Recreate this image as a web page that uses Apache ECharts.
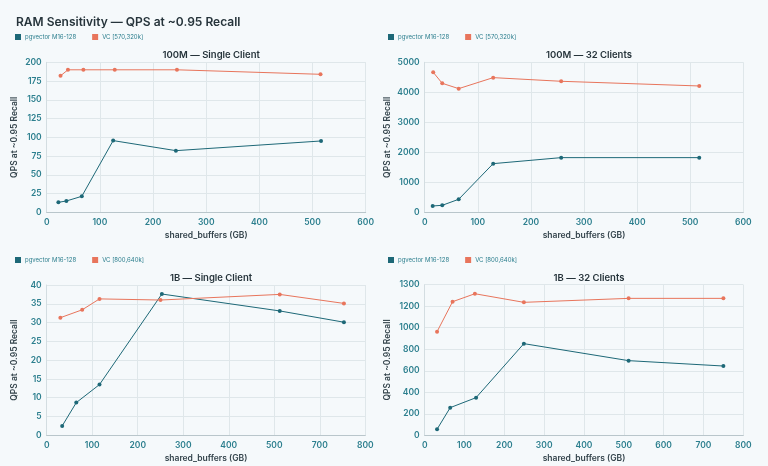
<!DOCTYPE html>
<html><head><meta charset="utf-8">
<script src="https://cdn.jsdelivr.net/npm/echarts@6/dist/echarts.min.js"></script>
<style>html,body{margin:0;padding:0;background:#f5f9fb;}#c{width:768px;height:466px;}</style>
</head><body><div id="c"></div>
<script>
// 100M — Single Client
const tl_pg_x = [22, 37, 66, 125, 243, 516];
const tl_pg_y = [13.3, 15.1, 21.3, 95.6, 82.2, 95.1];
const tl_vc_x = [26, 40, 69, 128, 245, 515];
const tl_vc_y = [182, 190, 190, 190, 190, 184];
// 100M — 32 Clients
const tr_pg_x = [15, 33, 64, 129, 257, 517];
const tr_pg_y = [211, 233, 433, 1622, 1822, 1822];
const tr_vc_x = [16, 33, 64, 129, 257, 517];
const tr_vc_y = [4667, 4300, 4122, 4489, 4367, 4211];
// 1B — Single Client (x axis as drawn: 7 equal steps)
const bl_pg_x = [34, 65, 116, 253, 512, 653];
const bl_pg_y = [2.5, 8.7, 13.5, 37.6, 33.1, 30.1];
const bl_vc_x = [30, 78, 116, 250, 512, 653];
const bl_vc_y = [31.3, 33.4, 36.3, 36.0, 37.5, 35.1];
const bl_x_ticks = ["0","100","200","300","400","500","700","800"];
// 1B — 32 Clients (y axis as drawn: 7 equal steps)
const br_pg_x = [31, 64, 129, 249, 512, 750];
const br_pg_y = [56, 257, 350, 852, 694, 644];
const br_vc_x = [31, 70, 126, 249, 512, 750];
const br_vc_y = [963, 1242, 1316, 1236, 1273, 1273];
const br_y_ticks = ["0","200","400","600","800","1000","1200","1300"];

const titles = ["100M — Single Client","100M — 32 Clients","1B — Single Client","1B — 32 Clients"];
const pgName = "pgvector M16-128";
const vcTop = "VC [570,320k]";
const vcBot = "VC [800,640k]";

const TEAL = "#1d6877", ORANGE = "#e8755c", LBL = "#2c7f8e";
const zip = (a,b)=>a.map((v,i)=>[v,b[i]]);

const grids = [
  {left:46.7, right:402.3, top:62.3, bottom:253.7},
  {left:424.7, right:24.7, top:62.3, bottom:253.7},
  {left:46.7, right:402.7, top:285, bottom:30.7},
  {left:424.7, right:24.7, top:284.7, bottom:30.7}
];
const plain = v=>String(v);
const xCfg = [
  {min:0,max:600,interval:100},
  {min:0,max:600,interval:100},
  {min:0,max:700,interval:100, fmt:v=>bl_x_ticks[Math.round(v/100)]},
  {min:0,max:800,interval:100}
];
const yCfg = [
  {min:0,max:200,interval:25, gap:28},
  {min:0,max:5000,interval:1000, gap:33},
  {min:0,max:40,interval:5, gap:28},
  {min:0,max:1400,interval:200, gap:33, fmt:v=>br_y_ticks[Math.round(v/200)]}
];
const axisLabel = {color:LBL, fontSize:8.5, fontWeight:600, fontFamily:'Inter'};
const nameStyle = {color:'#34444c', fontSize:8.5, fontWeight:600, fontFamily:'Inter'};
const xAxis = xCfg.map((c,i)=>({
  type:'value', gridIndex:i, min:c.min, max:c.max, interval:c.interval,
  name:'shared_buffers (GB)', nameLocation:'middle', nameGap:19, nameTextStyle:nameStyle,
  axisLine:{show:true, lineStyle:{color:'#b9c6cb'}}, axisTick:{show:false},
  splitLine:{show:true, lineStyle:{color:'#dfe7ea', width:1}},
  axisLabel:Object.assign({margin:6}, axisLabel, {formatter:c.fmt||plain})
}));
const yAxis = yCfg.map((c,i)=>({
  type:'value', gridIndex:i, min:c.min, max:c.max, interval:c.interval,
  name:'QPS at ~0.95 Recall', nameLocation:'middle', nameGap:c.gap, nameRotate:90, nameTextStyle:nameStyle,
  axisLine:{show:true, lineStyle:{color:'#d3dde1'}}, axisTick:{show:false},
  splitLine:{show:true, lineStyle:{color:'#dfe7ea', width:1}},
  axisLabel:Object.assign({margin:5}, axisLabel, {formatter:c.fmt||plain})
}));
function ser(name, data, color, i){
  return {type:'line', name, data, xAxisIndex:i, yAxisIndex:i,
    symbol:'circle', symbolSize:4, showSymbol:true,
    lineStyle:{color, width:1}, itemStyle:{color}, emphasis:{disabled:true}};
}
const series = [
  ser(pgName, zip(tl_pg_x,tl_pg_y), TEAL, 0), ser(vcTop, zip(tl_vc_x,tl_vc_y), ORANGE, 0),
  ser(pgName, zip(tr_pg_x,tr_pg_y), TEAL, 1), ser(vcTop, zip(tr_vc_x,tr_vc_y), ORANGE, 1),
  ser(pgName, zip(bl_pg_x,bl_pg_y), TEAL, 2), ser(vcBot, zip(bl_vc_x,bl_vc_y), ORANGE, 2),
  ser(pgName, zip(br_pg_x,br_pg_y), TEAL, 3), ser(vcBot, zip(br_vc_x,br_vc_y), ORANGE, 3)
];
const legTop = [29, 29, 252, 252], legLeft = [10, 383, 10, 383];
const legend = [0,1,2,3].map(i=>({
  left:legLeft[i], top:legTop[i], itemWidth:6, itemHeight:6, itemGap:16, icon:'rect',
  data:[{name:pgName, itemStyle:{color:TEAL}}, {name:i<2?vcTop:vcBot, itemStyle:{color:ORANGE}}],
  textStyle:{color:LBL, fontSize:6, fontFamily:'Inter', padding:[0,0,0,-1]},
  selectedMode:false
}));
const title = [{text:'RAM Sensitivity — QPS at ~0.95 Recall', left:11, top:11,
  textStyle:{color:'#26343b', fontSize:12, fontWeight:600, fontFamily:'Inter'}}];
titles.forEach((t,i)=>{
  const g = grids[i];
  const cx = g.left + (768 - g.left - g.right)/2;
  title.push({text:t, left:cx, top: i<2?45.5:268.5, textAlign:'center',
    textStyle:{color:'#26343b', fontSize:9.5, fontWeight:600, fontFamily:'Inter'}});
});
const chart = echarts.init(document.getElementById('c'), null, {renderer:'canvas'});
chart.setOption({backgroundColor:'#f5f9fb', animation:false, title, legend, grid:grids, xAxis, yAxis, series});
</script></body></html>
